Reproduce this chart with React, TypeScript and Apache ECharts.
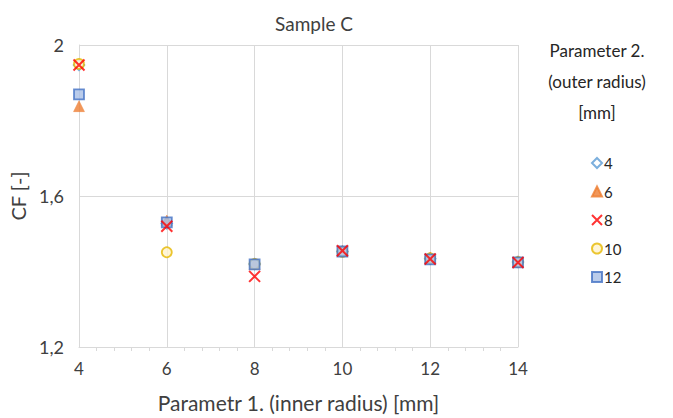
import React, { useEffect, useRef } from "react";
import * as echarts from "echarts";

const xValues = [4, 6, 8, 10, 12, 14];
const seriesNames = ["4", "6", "8", "10", "12"];
const s4 = [1.947, 1.527, 1.42, 1.453, 1.434, 1.425];
const s6 = [1.838, 1.535, 1.42, 1.455, 1.437, 1.427];
const s8 = [1.947, 1.52, 1.387, 1.455, 1.433, 1.424];
const s10 = [1.95, 1.451, 1.42, 1.452, 1.435, 1.425];
const s12 = [1.869, 1.53, 1.419, 1.453, 1.432, 1.424];

const FONT = "Lato, 'Open Sans', sans-serif";

export default function App() {
  const ref = useRef<HTMLDivElement>(null);
  useEffect(() => {
    document.body.style.margin = "0";
    if (!ref.current) return;
    const chart = echarts.init(ref.current, undefined, { renderer: "svg" });
    const pts = (arr: number[]) => arr.map((v, i) => [xValues[i], v]);
    const xPath = "path://M0,0L10,10M10,0L0,10";
    chart.setOption({
      animation: false,
      backgroundColor: "#ffffff",
      textStyle: { fontFamily: FONT },
      title: [
        {
          text: "Sample C",
          left: 309,
          top: 9,
          textAlign: "center",
          textStyle: { fontFamily: FONT, fontSize: 19, fontWeight: "normal", color: "#404040" },
        },
        {
          text: "Parameter 2.\n(outer radius)\n[mm]",
          left: 592,
          top: 30,
          textAlign: "center",
          textStyle: {
            fontFamily: FONT,
            fontSize: 17,
            fontWeight: "normal",
            color: "#262626",
            lineHeight: 31,
            align: "center",
          },
        },
      ],
      legend: {
        orient: "vertical",
        left: 586,
        top: 150,
        itemGap: 12.5,
        itemWidth: 10,
        itemHeight: 10,
        textStyle: {
          fontFamily: FONT,
          fontSize: 15,
          lineHeight: 16,
          color: "#262626",
          padding: [0, 0, 0, -3],
        },
        data: seriesNames,
      },
      grid: { left: 79, right: 155, top: 45, bottom: 70, containLabel: false },
      xAxis: {
        type: "value",
        min: 4,
        max: 14,
        interval: 2,
        name: "Parametr 1. (inner radius) [mm]",
        nameLocation: "middle",
        nameGap: 45,
        nameTextStyle: { fontFamily: FONT, fontSize: 21, color: "#404040" },
        axisLine: { show: true, lineStyle: { color: "#d9d9d9" } },
        axisTick: { show: false },
        minorTick: { show: true, splitNumber: 5, length: 4, lineStyle: { color: "#d9d9d9" } },
        axisLabel: { fontFamily: FONT, fontSize: 17, color: "#404040", margin: 13 },
        splitLine: { show: true, lineStyle: { color: "#d9d9d9" } },
      },
      yAxis: {
        type: "value",
        min: 1.2,
        max: 2,
        interval: 0.4,
        name: "CF [-]",
        nameLocation: "middle",
        nameGap: 45,
        nameRotate: 90,
        nameTextStyle: { fontFamily: FONT, fontSize: 20, color: "#404040" },
        axisLine: { show: true, lineStyle: { color: "#d9d9d9" } },
        axisTick: { show: false },
        axisLabel: {
          fontFamily: FONT,
          fontSize: 18,
          color: "#404040",
          margin: 15,
          formatter: (v: number) => String(Math.round(v * 10) / 10).replace(".", ","),
        },
        splitLine: { show: true, lineStyle: { color: "#d9d9d9" } },
      },
      series: [
        {
          name: "4",
          type: "scatter",
          data: pts(s4),
          symbol: "diamond",
          symbolSize: 11,
          itemStyle: { color: "#ffffff", borderColor: "#5B9BD5", borderWidth: 1.5 },
          z: 2,
        },
        {
          name: "6",
          type: "scatter",
          data: pts(s6),
          symbol: "triangle",
          symbolSize: 11,
          itemStyle: { color: "#ED7D31", borderColor: "#ED7D31", borderWidth: 0.5 },
          z: 3,
        },
        {
          name: "8",
          type: "scatter",
          data: pts(s8),
          symbol: xPath,
          symbolSize: 11,
          itemStyle: { color: "#FF0000", borderColor: "#FF0000", borderWidth: 2 },
          z: 6,
        },
        {
          name: "10",
          type: "scatter",
          data: pts(s10),
          symbol: "circle",
          symbolSize: 10,
          itemStyle: { color: "#FFF2CC", borderColor: "#E6B800", borderWidth: 1.8 },
          z: 4,
        },
        {
          name: "12",
          type: "scatter",
          data: pts(s12),
          symbol: "rect",
          symbolSize: 10,
          itemStyle: { color: "#A9BFE6", borderColor: "#4472C4", borderWidth: 1.8 },
          z: 5,
        },
      ],
    });
    return () => chart.dispose();
  }, []);
  return <div ref={ref} style={{ width: 673, height: 418 }} />;
}
